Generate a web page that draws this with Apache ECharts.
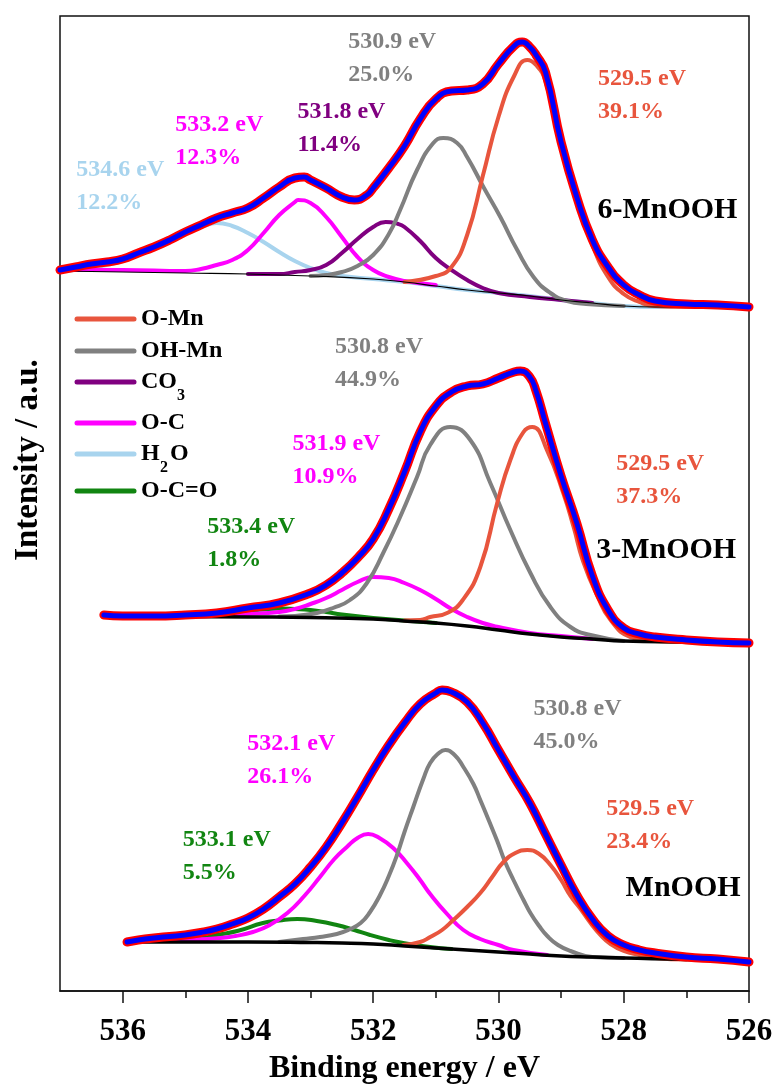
<!DOCTYPE html>
<html>
<head>
<meta charset="utf-8">
<title>O 1s XPS - MnOOH</title>
<script src="https://cdn.jsdelivr.net/npm/echarts@6/dist/echarts.min.js"></script>
<style>
  html, body { margin: 0; padding: 0; background: #fff; }
  #chart { width: 777px; height: 1086px; }
</style>
</head>
<body>
<div id="chart"></div>
<script>
// x: binding energy (eV), y: intensity (a.u., panels stacked with offsets)
const energyTicks = [526, 528, 530, 532, 534, 536]

// ---- 6-MnOOH (top) ----
const top_spectrum = [[537, 721], [536.75, 724], [536.5, 727], [536.25, 729], [536, 732], [535.75, 738], [535.5, 744], [535.25, 751], [535, 759], [534.75, 766], [534.5, 773], [534.25, 778], [534, 783], [533.75, 793], [533.5, 804], [533.25, 813], [533.1, 814], [533, 811], [532.75, 803], [532.5, 794], [532.3, 791], [532.1, 796], [532, 803], [531.75, 823], [531.5, 845], [531.25, 872], [531, 892], [530.75, 900], [530.5, 901], [530.25, 907], [530, 927], [529.75, 945], [529.62, 949], [529.5, 944], [529.4, 936], [529.25, 919], [529, 849], [528.75, 794], [528.5, 751], [528.25, 724], [528, 706], [527.75, 696], [527.5, 690], [527, 687], [526.5, 686], [526, 684]]
const top_background = [[537, 720], [535, 718], [534, 717], [533, 715], [532, 712], [531.5, 709], [531, 705], [530.5, 701], [530, 698], [529.5, 695], [529, 691], [528.5, 688], [528, 685], [527.5, 684], [526, 684]]
const top_OMn = [[531.5, 709], [531, 715], [530.75, 724], [530.5, 756], [530.25, 815], [530, 874], [529.75, 915], [529.54, 931], [529.4, 926], [529.25, 910], [529, 846], [528.75, 793], [528.5, 746], [528.25, 714], [528, 697], [527.75, 689], [527.5, 685], [527, 684], [526, 684]]
const top_OHMn = [[533, 715], [532.75, 716], [532.5, 719], [532.25, 725], [532, 736], [531.75, 757], [531.57, 781], [531.3, 821], [531.04, 848], [530.88, 853], [530.66, 848], [530.5, 834], [530.24, 804], [529.97, 774], [529.7, 741], [529.44, 714], [529.17, 698], [528.9, 690], [528.6, 687], [528, 685]]
const top_CO3 = [[534, 717], [533.5, 717], [533.25, 719], [533, 721], [532.75, 726], [532.5, 738], [532.25, 752], [532, 764], [531.8, 769], [531.6, 767], [531.5, 764], [531.25, 750], [531, 733], [530.75, 721], [530.5, 711], [530.25, 703], [530, 698], [529.5, 694], [529, 691], [528.5, 688]]
const top_OC = [[537, 721], [536, 721], [535, 720], [534.75, 722], [534.5, 726], [534.25, 731], [534, 741], [533.75, 758], [533.5, 776], [533.25, 789], [533.2, 791], [533, 788], [532.75, 774], [532.5, 754], [532.25, 734], [532, 721], [531.75, 714], [531.5, 710], [531, 706]]
const top_H2O = [[537, 720], [536.5, 723], [536, 730], [535.75, 736], [535.5, 743], [535.25, 750], [535, 757], [534.75, 764], [534.6, 767], [534.5, 768], [534.25, 765], [534, 758], [533.75, 749], [533.5, 739], [533.25, 730], [533, 723], [532.75, 718], [532.5, 715], [532, 712], [531.5, 709], [531, 705], [530.5, 701], [530, 698], [529.5, 695], [529, 691], [528.5, 688], [528, 685], [527.5, 684], [526, 684]]

// ---- 3-MnOOH (middle) ----
const mid_spectrum = [[536.3, 376], [536, 375], [535.5, 375], [535, 376], [534.5, 378], [534, 383], [533.5, 388], [533, 398], [532.75, 406], [532.5, 418], [532.25, 433], [532, 452], [531.75, 482], [531.5, 519], [531.25, 559], [531, 585], [530.75, 599], [530.5, 605], [530.25, 607], [530, 613], [529.75, 619], [529.65, 620], [529.5, 614], [529.4, 600], [529.25, 568], [529, 515], [528.75, 468], [528.5, 415], [528.25, 381], [528, 363], [527.75, 357], [527.5, 354], [527, 351], [526.5, 349], [526, 348]]
const mid_background = [[536.3, 375], [534, 374], [533, 373.5], [532, 372], [531.5, 370], [531, 368], [530.5, 365], [530, 361], [529.5, 357], [529, 354], [528.5, 352], [528, 350], [527, 349], [526, 348]]
const mid_OMn = [[531.5, 370.5], [531.25, 371], [531.09, 374], [530.82, 378], [530.57, 391], [530.29, 424], [530.02, 488], [529.81, 531], [529.6, 559], [529.46, 564], [529.22, 540], [528.96, 497], [528.8, 464], [528.65, 430], [528.42, 395], [528.21, 371], [527.89, 354], [527.5, 350], [527, 349]]
const mid_OHMn = [[533.5, 374.5], [533.25, 375], [532.9, 378], [532.64, 383], [532.37, 391], [532.1, 408], [531.84, 438], [531.57, 474], [531.3, 514], [531.09, 546], [530.77, 564], [530.45, 551], [530.13, 508], [529.81, 461], [529.49, 418], [529.17, 384], [528.85, 364], [528.53, 356], [528, 350]]
const mid_OC = [[535, 376], [534.5, 376], [534, 377], [533.5, 379], [533.25, 382], [533, 387], [532.75, 393], [532.5, 401], [532.25, 409], [532, 414], [531.75, 413], [531.5, 408], [531.25, 401], [531, 392], [530.75, 382], [530.5, 374], [530.25, 368], [530, 364], [529.5, 358], [529, 355], [528.5, 352]]
const mid_OCO = [[535.5, 375], [535, 376], [534.5, 377.5], [534, 380], [533.75, 381.5], [533.5, 382.5], [533.25, 382], [533, 381], [532.75, 379], [532.5, 376.5], [532, 373], [531.5, 370.5], [531, 368]]

// ---- MnOOH (bottom) ----
const bot_spectrum = [[535.93, 49], [535.75, 51], [535.5, 53], [535.25, 54.5], [535, 56], [534.75, 58.5], [534.5, 62], [534.25, 67], [534, 73], [533.75, 82], [533.5, 94], [533.25, 107], [533, 124], [532.75, 144], [532.5, 168], [532.25, 194], [532, 221], [531.75, 246], [531.5, 268], [531.25, 287], [531, 298], [530.9, 301], [530.75, 299], [530.5, 289], [530.25, 268], [530, 241], [529.75, 214], [529.5, 188], [529.25, 157], [529, 126], [528.75, 96], [528.5, 72], [528.25, 55], [528, 46], [527.75, 41], [527.5, 38], [527, 34], [526.5, 32], [526, 29]]
const bot_background = [[535.93, 49], [534, 49], [533, 48.5], [532.5, 48], [532, 47], [531.5, 45], [531, 43], [530.5, 41], [530, 39], [529.5, 37], [529, 35], [528.5, 34], [528, 33], [527, 31.5], [526, 29]]
const bot_OMn = [[531.52, 46], [531.25, 49], [531.09, 54], [530.9, 61], [530.72, 71], [530.5, 84], [530.29, 98], [530.1, 114], [529.92, 129], [529.73, 138], [529.54, 141], [529.35, 137], [529.17, 126], [529, 111], [528.85, 95], [528.7, 83], [528.53, 68], [528.37, 56], [528.21, 47], [528, 40], [527.75, 36], [527.5, 33], [527, 31.5]]
const bot_OHMn = [[533.5, 49], [533.12, 52], [532.85, 54], [532.58, 57], [532.4, 61], [532.2, 68], [532.05, 79], [531.89, 96], [531.75, 115], [531.62, 136], [531.5, 159], [531.36, 184], [531.2, 212], [531.09, 228], [530.95, 238], [530.85, 241], [530.7, 236], [530.56, 224], [530.4, 207], [530.29, 191], [530.15, 170], [530.02, 150], [529.9, 130], [529.76, 111], [529.6, 91], [529.49, 78], [529.35, 65], [529.22, 55], [529.05, 46], [528.85, 40], [528.5, 34], [528, 33]]
const bot_OC = [[535.5, 50], [535, 51], [534.44, 53], [534.2, 55], [533.92, 59], [533.65, 66], [533.37, 78], [533.1, 95], [532.85, 114], [532.62, 132], [532.42, 144], [532.25, 153], [532.08, 157], [531.9, 153], [531.68, 143], [531.45, 127], [531.25, 111], [531.09, 97], [530.82, 77], [530.56, 61], [530.29, 52], [530, 46], [529.76, 41], [529.22, 36]]
const bot_OCO = [[535.5, 50], [535.25, 51], [535, 52], [534.72, 53], [534.5, 56], [534.17, 60], [533.76, 68], [533.5, 70.5], [533.21, 72], [532.9, 70], [532.58, 66], [532.3, 61], [532.05, 56], [531.75, 51], [531.52, 48], [531.09, 44], [530.75, 42]]

const FONT = "'Times New Roman', 'Liberation Serif', serif"

// 组分颜色
const compColors = {
  'O-Mn': '#E8553D',
  'OH-Mn': '#808080',
  'CO3': '#800080',
  'O-C': '#FF00FF',
  'H2O': '#A8D4EE',
  'O-C=O': '#118511'
}

const panels = [
  { key: '6-MnOOH', spectrum: top_spectrum, background: top_background, bgWidth: 1.2,
    components: [['H2O', top_H2O], ['O-C', top_OC], ['CO3', top_CO3], ['OH-Mn', top_OHMn], ['O-Mn', top_OMn]] },
  { key: '3-MnOOH', spectrum: mid_spectrum, background: mid_background, bgWidth: 3.5,
    components: [['O-C=O', mid_OCO], ['O-C', mid_OC], ['OH-Mn', mid_OHMn], ['O-Mn', mid_OMn]] },
  { key: 'MnOOH', spectrum: bot_spectrum, background: bot_background, bgWidth: 3.5,
    components: [['O-C=O', bot_OCO], ['O-C', bot_OC], ['OH-Mn', bot_OHMn], ['O-Mn', bot_OMn]] }
]

// peak annotations: [energy, intensity (top-left of text), line1, line2, component]
const peakLabels = [
  [532.40, 965.5, '530.9 eV', '25.0%', 'OH-Mn'],
  [535.16, 882.5, '533.2 eV', '12.3%', 'O-C'],
  [533.21, 895.5, '531.8 eV', '11.4%', 'CO3'],
  [536.74, 837.5, '534.6 eV', '12.2%', 'H2O'],
  [528.41, 928.5, '529.5 eV', '39.1%', 'O-Mn'],
  [532.61, 660.5, '530.8 eV', '44.9%', 'OH-Mn'],
  [533.29, 563.5, '531.9 eV', '10.9%', 'O-C'],
  [534.65, 480.5, '533.4 eV', '1.8%', 'O-C=O'],
  [528.12, 543.5, '529.5 eV', '37.3%', 'O-Mn'],
  [534.01, 263.5, '532.1 eV', '26.1%', 'O-C'],
  [535.04, 167.5, '533.1 eV', '5.5%', 'O-C=O'],
  [529.44, 298.5, '530.8 eV', '45.0%', 'OH-Mn'],
  [528.28, 198.5, '529.5 eV', '23.4%', 'O-Mn']
]
const sampleLabels = [
  [528.42, 799, '6-MnOOH'],
  [528.44, 459, '3-MnOOH'],
  [527.97, 121, 'MnOOH']
]

const legendItems = [
  ['O-Mn', 'O-Mn'], ['OH-Mn', 'OH-Mn'], ['CO3', 'CO', '3', ''], ['O-C', 'O-C'], ['H2O', 'H', '2', 'O'], ['O-C=O', 'O-C=O']
]

const lineSeries = (name, data, color, width, z) => ({
  type: 'line',
  name,
  data,
  showSymbol: false,
  smooth: 0.5,
  silent: true,
  z,
  lineStyle: { color, width, cap: 'round', join: 'round' }
})

const series = []
panels.forEach(p => {
  p.components.forEach(([name, data]) => {
    series.push(lineSeries(name, data, compColors[name], 4, 2))
  })
  series.push(lineSeries(p.key + ' background', p.background, '#000', p.bgWidth, 3))
  series.push(lineSeries(p.key + ' data', p.spectrum, '#FF0000', 9, 4))
  series.push(lineSeries(p.key + ' fit', p.spectrum, '#0000FF', 5, 5))
})

// text layers (scatter with invisible symbols, so labels sit on the data scale)
const textLayer = (name, data, labelStyle) => ({
  type: 'scatter',
  name,
  symbolSize: 0,
  silent: true,
  z: 10,
  itemStyle: { opacity: 1 },
  data,
  label: Object.assign({
    show: true,
    position: [0, 0],
    align: 'left',
    verticalAlign: 'top',
    opacity: 1,
    fontFamily: FONT,
    fontWeight: 'bold'
  }, labelStyle)
})

series.push(textLayer('peak labels',
  peakLabels.map(([x, y, l1, l2, comp]) => ({
    value: [x, y],
    label: { formatter: l1 + '\n' + l2, color: compColors[comp] }
  })),
  { fontSize: 24, lineHeight: 33 }))
series.push(textLayer('sample labels',
  sampleLabels.map(([x, y, t]) => ({ value: [x, y], label: { formatter: t } })),
  { fontSize: 30, lineHeight: 36, color: '#000' }))

// legend drawn by hand (irregular spacing as in the figure)
const legendY = [319, 351, 382, 423, 454, 491]
const graphic = []
legendItems.forEach(([key, main, sub, tail], i) => {
  const y = legendY[i]
  graphic.push({
    type: 'line',
    shape: { x1: 77, y1: y, x2: 134, y2: y },
    style: { stroke: compColors[key], lineWidth: 5, lineCap: 'round' }
  })
  graphic.push({
    type: 'text', x: 141, y,
    style: { text: main, font: 'bold 24px ' + FONT, fill: '#000', verticalAlign: 'middle' }
  })
  if (sub) {
    const mainW = main === 'CO' ? 36 : 19
    graphic.push({
      type: 'text', x: 141 + mainW, y: y + 14,
      style: { text: sub, font: 'bold 16px ' + FONT, fill: '#000', verticalAlign: 'middle' }
    })
    if (tail) {
      graphic.push({
        type: 'text', x: 141 + mainW + 10, y,
        style: { text: tail, font: 'bold 24px ' + FONT, fill: '#000', verticalAlign: 'middle' }
      })
    }
  }
})
graphic.push({
  type: 'text', x: 28, y: 460, rotation: Math.PI / 2,
  style: { text: 'Intensity / a.u.', font: 'bold 33px ' + FONT, fill: '#000', align: 'center', verticalAlign: 'middle' }
})

const chart = echarts.init(document.getElementById('chart'), null, { renderer: 'canvas' })
chart.setOption({
  animation: false,
  backgroundColor: '#fff',
  grid: {
    left: 60, right: 28, top: 16, bottom: 95,
    outerBoundsMode: 'none',
    show: true,
    borderColor: '#111',
    borderWidth: 1.5
  },
  xAxis: {
    type: 'value',
    min: 526,
    max: 537,
    interval: 2,
    inverse: true,
    name: 'Binding energy / eV',
    nameLocation: 'middle',
    nameGap: 62,
    nameTextStyle: { fontFamily: FONT, fontWeight: 'bold', fontSize: 32, color: '#000' },
    axisLine: { show: true, lineStyle: { color: '#111', width: 1.5 } },
    axisTick: { show: true, length: 12, customValues: energyTicks, lineStyle: { color: '#111', width: 1.5 } },
    minorTick: { show: true, splitNumber: 2, length: 7, lineStyle: { color: '#111', width: 1.5 } },
    axisLabel: {
      customValues: energyTicks,
      margin: 25,
      fontFamily: FONT, fontWeight: 'bold', fontSize: 31, color: '#000'
    },
    splitLine: { show: false }
  },
  yAxis: {
    type: 'value',
    min: 0,
    max: 975,
    show: false
  },
  graphic,
  series
})
</script>
</body>
</html>
